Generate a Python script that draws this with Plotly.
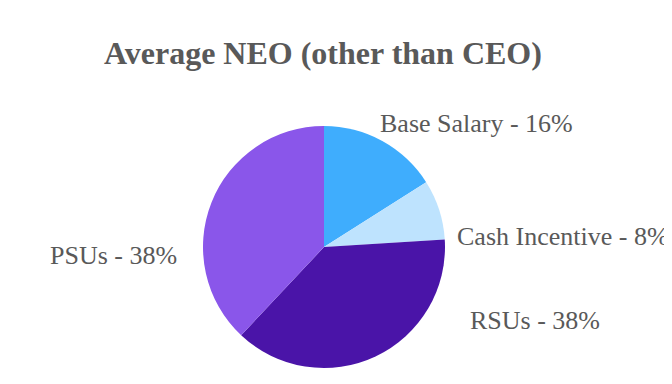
import plotly.graph_objects as go

categories = ["Base Salary", "Cash Incentive", "RSUs", "PSUs"]
values = [16, 8, 38, 38]
colors = ["#3FADFD", "#BEE3FE", "#4A14A8", "#8A56EA"]
title_text = "Average NEO (other than CEO)"

W, H = 672, 384
# label anchor positions in pixels (left/right edge, vertical middle of caps)
label_pos = [
    (370, 116, "left"),
    (447, 228, "left"),
    (460, 312, "left"),
    (171, 247, "right"),
]

cx, cy, r = 316, 239, 121

fig = go.Figure(
    go.Pie(
        labels=categories,
        values=values,
        marker=dict(colors=colors, line=dict(width=0)),
        sort=False,
        direction="clockwise",
        rotation=0,
        textinfo="none",
        hoverinfo="label+percent",
        showlegend=False,
        domain=dict(x=[(cx - r) / W, (cx + r) / W], y=[(H - cy - r) / H, (H - cy + r) / H]),
    )
)

annotations = []
for (px, py, anchor), lab, val in zip(label_pos, categories, values):
    annotations.append(
        dict(
            x=px / W, y=1 - py / H, xref="paper", yref="paper",
            xanchor=anchor, yanchor="middle", showarrow=False,
            text=f"{lab} - {val}%",
            font=dict(family="Liberation Serif", size=26, color="#595959"),
        )
    )
annotations.append(
    dict(
        x=315 / W, y=1 - 45 / H, xref="paper", yref="paper",
        xanchor="center", yanchor="middle", showarrow=False,
        text=f"<b>{title_text}</b>",
        font=dict(family="Liberation Serif", size=32, color="#595959"),
    )
)

fig.update_layout(
    width=W, height=H,
    margin=dict(l=0, r=0, t=0, b=0),
    paper_bgcolor="white", plot_bgcolor="white",
    annotations=annotations,
)

fig.write_html("out.html")
